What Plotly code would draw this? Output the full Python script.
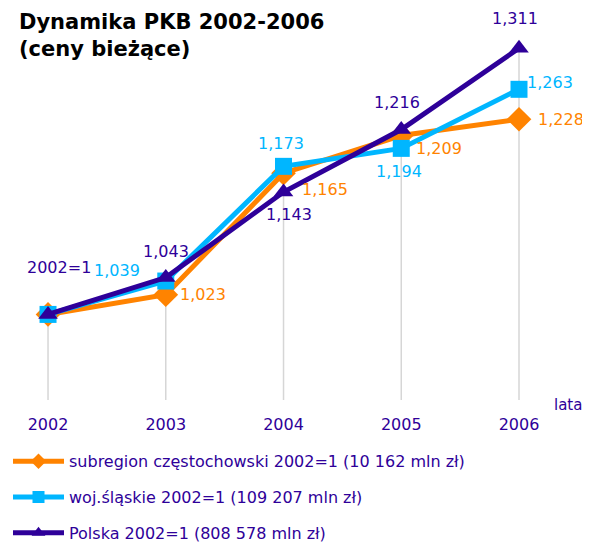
import plotly.graph_objects as go

# data
years = [2002, 2003, 2004, 2005, 2006]
subregion = [1.0, 1.023, 1.165, 1.209, 1.228]
slaskie = [1.0, 1.039, 1.173, 1.194, 1.263]
polska = [1.0, 1.043, 1.143, 1.216, 1.311]

series_names = ["subregion częstochowski 2002=1 (10 162 mln zł)",
                "woj.śląskie 2002=1 (109 207 mln zł)",
                "Polska 2002=1 (808 578 mln zł)"]
subregion_labels = ["", "1,023", "1,165", "1,209", "1,228"]
slaskie_labels = ["", "1,039", "1,173", "1,194", "1,263"]
polska_labels = ["2002=1", "1,043", "1,143", "1,216", "1,311"]

ORANGE = "#FF8300"
CYAN = "#00B6FF"
PURPLE = "#2E0099"
FONT = "DejaVu Sans"
Y_MIN, Y_MAX = 0.9, 1.358

fig = go.Figure()

# drop lines from the highest point of each year down to the axis
drop_x, drop_y = [], []
for i, yr in enumerate(years):
    top = max(subregion[i], slaskie[i], polska[i])
    drop_x += [yr, yr, None]
    drop_y += [top, Y_MIN, None]
fig.add_trace(go.Scatter(x=drop_x, y=drop_y, mode="lines",
                         line=dict(color="#D6D6D6", width=1.5),
                         showlegend=False, hoverinfo="skip"))

styles = [
    (subregion, series_names[0], ORANGE, "diamond", 19),
    (slaskie, series_names[1], CYAN, "square", 17),
    (polska, series_names[2], PURPLE, "triangle-up", 17),
]
for i, (vals, name, col, sym, size) in enumerate(styles):
    fig.add_trace(go.Scatter(
        x=years, y=vals, name=name, mode="lines+markers",
        line=dict(color=col, width=5),
        marker=dict(symbol=sym, size=size, color=col),
        legendgroup="g%d" % i,
    ))

# label offsets in pixels (dx, dy), dy positive = up
offsets = {
    "sub": [(0, 0), (37, 0), (41, -16), (38, -13), (42, 0)],
    "sla": [(0, 0), (-49, 11), (-3, 23), (-2, -23), (31, 7)],
    "pol": [(11, 47), (0, 26), (5, -22), (-4, 27), (-4, 30)],
}
for key, vals, labels, col in [("sub", subregion, subregion_labels, ORANGE),
                               ("sla", slaskie, slaskie_labels, CYAN),
                               ("pol", polska, polska_labels, PURPLE)]:
    for i, yr in enumerate(years):
        if not labels[i]:
            continue
        dx, dy = offsets[key][i]
        fig.add_annotation(x=yr, y=vals[i], text=labels[i], showarrow=False,
                           xshift=dx, yshift=dy,
                           font=dict(family=FONT, size=16, color=col))

# title
fig.add_annotation(xref="paper", yref="paper", x=0, y=1, xanchor="left",
                   yanchor="top", xshift=9, yshift=0, align="left",
                   text="<b>Dynamika PKB 2002-2006<br>(ceny bieżące)</b>",
                   showarrow=False,
                   font=dict(family=FONT, size=21, color="#000000"))

# axis title
fig.add_annotation(x=years[-1], xref="x", yref="paper", y=0, xshift=49,
                   yshift=-16, text="lata", showarrow=False,
                   font=dict(family=FONT, size=15, color=PURPLE))

fig.update_layout(
    width=582, height=550,
    margin=dict(l=0, r=0, t=0, b=158),
    plot_bgcolor="white", paper_bgcolor="white",
    showlegend=True,
    legend=dict(x=0, y=-0.113, xanchor="left", yanchor="top",
                orientation="v", tracegroupgap=12, itemwidth=51,
                itemsizing="constant",
                font=dict(family=FONT, size=16, color=PURPLE),
                bgcolor="rgba(0,0,0,0)"),
)
fig.update_xaxes(range=[2001.660, 2006.603], tickvals=years,
                 showgrid=False, zeroline=False, showline=False,
                 ticks="", ticklabelstandoff=13,
                 tickfont=dict(family=FONT, size=16, color=PURPLE))
fig.update_yaxes(range=[Y_MIN, Y_MAX], visible=False, showgrid=False)

fig.write_html("out.html")
